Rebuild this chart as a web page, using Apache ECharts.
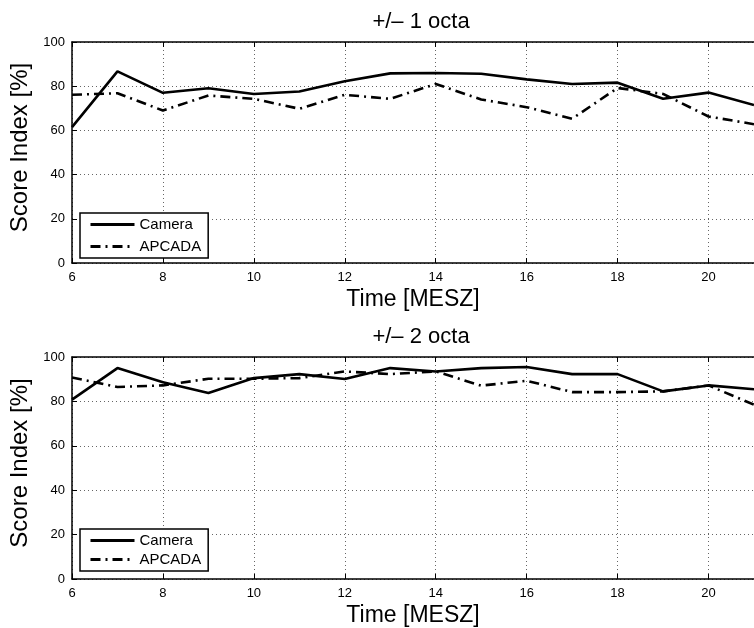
<!DOCTYPE html>
<html>
<head>
<meta charset="utf-8">
<script src="https://cdn.jsdelivr.net/npm/echarts@6/dist/echarts.min.js"></script>
<style>
html,body{margin:0;padding:0;background:#fff;}
#main{width:754px;height:628px;}
</style>
</head>
<body>
<div id="main"></div>
<script>
// ---- data ----
var hours = [6, 7, 8, 9, 10, 11, 12, 13, 14, 15, 16, 17, 18, 19, 20, 21];
var camera1 = [61.5, 86.7, 77.0, 79.1, 76.5, 77.6, 82.2, 85.8, 86.0, 85.6, 83.1, 81.0, 81.6, 74.3, 77.1, 71.5];
var apcada1 = [76.1, 76.8, 69.0, 75.8, 74.3, 69.8, 76.1, 74.3, 81.0, 74.0, 70.5, 65.3, 79.2, 76.5, 66.3, 62.8];
var camera2 = [80.8, 95.0, 88.6, 83.8, 90.5, 92.3, 90.1, 95.0, 93.5, 95.0, 95.5, 92.3, 92.3, 84.5, 87.2, 85.5];
var apcada2 = [90.8, 86.5, 87.2, 90.2, 90.2, 90.5, 93.5, 92.3, 93.5, 87.1, 89.3, 84.2, 84.2, 84.5, 87.2, 78.5];
var titles = ['+/\u2013 1 octa', '+/\u2013 2 octa'];
var xName = 'Time [MESZ]';
var yName = 'Score Index [%]';
var seriesNames = ['Camera', 'APCADA'];

function pairs(vals) { return hours.map(function (h, i) { return [h, vals[i]]; }); }

var FONT = "'Liberation Sans', Arial, Helvetica, sans-serif";
var grids = [
  { left: 72, right: -7, top: 42, bottom: 365 },
  { left: 72, right: -7, top: 357, bottom: 49 }
];

function xAxisBottom(gi) {
  return {
    type: 'value', gridIndex: gi, min: 6, max: 21, interval: 2, position: 'bottom',
    name: xName, nameLocation: 'middle', nameGap: 25,
    nameTextStyle: { fontFamily: FONT, fontSize: 23, color: '#000' },
    axisLine: { show: true, onZero: false, lineStyle: { color: '#000', width: 1.5 } },
    axisTick: { show: true, inside: true, length: 5, lineStyle: { color: '#000', width: 1 } },
    axisLabel: { fontFamily: FONT, fontSize: 13, color: '#000', margin: 8, showMaxLabel: false,
      formatter: function (v) { return v % 2 === 0 ? String(v) : ''; } },
    splitLine: { show: true, lineStyle: { color: '#666', width: 1, type: [1, 3] } }
  };
}
function xAxisTop(gi) {
  return {
    type: 'value', gridIndex: gi, min: 6, max: 21, interval: 2, position: 'top',
    axisLine: { show: true, onZero: false, lineStyle: { color: '#000', width: 1.5 } },
    axisTick: { show: true, inside: true, length: 5, lineStyle: { color: '#000', width: 1 } },
    axisLabel: { show: false },
    splitLine: { show: false }
  };
}
function yAxisLeft(gi) {
  return {
    type: 'value', gridIndex: gi, min: 0, max: 100, interval: 20,
    name: yName, nameLocation: 'middle', nameGap: 27, nameRotate: 90,
    nameTextStyle: { fontFamily: FONT, fontSize: 24, color: '#000', padding: [0, 0, 0, 10] },
    axisLine: { show: true, lineStyle: { color: '#000', width: 1.5 } },
    axisTick: { show: true, inside: true, length: 5, lineStyle: { color: '#000', width: 1 } },
    axisLabel: { fontFamily: FONT, fontSize: 13, color: '#000', margin: 7 },
    splitLine: { show: true, lineStyle: { color: '#666', width: 1, type: [1, 3] } }
  };
}

var solidStyle = { color: '#000', width: 2.6, type: 'solid' };
var dashDotStyle = { color: '#000', width: 2.6, type: [10, 5, 2, 5] };

function lineSeries(name, vals, xi, yi, style) {
  return {
    name: name, type: 'line', xAxisIndex: xi, yAxisIndex: yi,
    data: pairs(vals), symbol: 'none', showSymbol: false,
    lineStyle: style, itemStyle: { color: '#000' }, animation: false, z: 3
  };
}

function legendAt(top, gap) {
  return {
    left: 80, top: top, orient: 'vertical', itemWidth: 44, itemHeight: 14, itemGap: gap,
    padding: [4, 7, 4, 9], borderColor: '#000', borderWidth: 1.5, backgroundColor: '#fff',
    textStyle: { fontFamily: FONT, fontSize: 15, color: '#000' },
    itemStyle: { color: 'rgba(0,0,0,0)', borderWidth: 0, opacity: 0 },
    lineStyle: { width: 3 },
    selectedMode: false, data: seriesNames
  };
}

var chart = echarts.init(document.getElementById('main'), null, { renderer: 'canvas' });
chart.setOption({
  backgroundColor: '#fff',
  animation: false,
  title: [
    { text: titles[0], left: 416, top: 6, textAlign: 'center',
      textStyle: { fontFamily: FONT, fontSize: 22, fontWeight: 'normal', color: '#000' } },
    { text: titles[1], left: 416, top: 321, textAlign: 'center',
      textStyle: { fontFamily: FONT, fontSize: 22, fontWeight: 'normal', color: '#000' } }
  ],
  grid: grids,
  xAxis: [xAxisBottom(0), xAxisTop(0), xAxisBottom(1), xAxisTop(1)],
  yAxis: [yAxisLeft(0), yAxisLeft(1)],
  legend: [legendAt(213, 7), legendAt(529, 4)],
  series: [
    lineSeries(seriesNames[0], camera1, 0, 0, solidStyle),
    lineSeries(seriesNames[1], apcada1, 0, 0, dashDotStyle),
    lineSeries(seriesNames[0], camera2, 2, 1, solidStyle),
    lineSeries(seriesNames[1], apcada2, 2, 1, dashDotStyle)
  ]
});
</script>
</body>
</html>
